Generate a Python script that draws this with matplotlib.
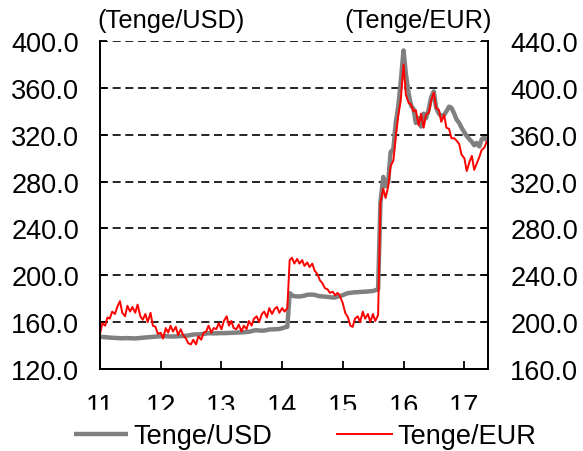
import matplotlib
matplotlib.use("Agg")
import matplotlib.pyplot as plt
import pandas as pd

plt.rcParams['font.family'] = ['Liberation Sans', 'DejaVu Sans']
plt.rcParams['font.size'] = 19.5

# semi-monthly observations, Jan 2011 - May 2017
dates = pd.date_range('2011-01-01', '2017-05-31', freq='SMS')

usd = [
    147.5, 147.4, 147.2, 147.0, 146.8, 146.7, 146.5, 146.4, 146.3, 146.2, 146.3, 146.4,
    146.3, 146.2, 146.1, 146.3, 146.5, 146.7, 146.9, 147.1, 147.3, 147.4, 147.6, 147.8,
    148.0, 148.1, 148.0, 147.9, 147.7, 147.8, 147.8, 147.9, 148.0, 148.2, 148.4, 148.6,
    149.0, 149.4, 149.6, 149.5, 149.7, 150.0, 150.3, 150.5, 150.5, 150.4, 150.5, 150.6,
    150.7, 150.6, 150.7, 150.8, 150.9, 150.9, 151.0, 151.1, 151.2, 151.4, 151.6, 151.8,
    152.3, 152.9, 153.1, 152.9, 152.7, 152.8, 153.3, 153.7, 153.8, 153.9, 154.0, 154.2,
    154.8, 155.5, 156.0, 184.8, 183.0, 182.1, 182.0, 181.9, 182.3, 182.6, 183.4, 183.5,
    183.5, 183.3, 182.6, 182.1, 182.0, 181.8, 181.6, 181.3, 181.0, 181.1, 181.8, 182.4,
    183.0, 184.0, 184.8, 185.0, 185.3, 185.5, 185.6, 185.8, 185.9, 186.0, 186.2, 186.3,
    186.6, 187.2, 188.0, 262.0, 284.0, 276.0, 280.0, 305.0, 308.0, 330.0, 345.0, 365.0,
    392.0, 372.0, 355.0, 345.0, 342.0, 330.0, 334.0, 327.0, 338.0, 334.0, 342.0, 352.0,
    357.0, 343.0, 338.0, 336.0, 337.0, 340.0, 344.0, 343.0, 338.0, 333.0, 330.0, 326.0,
    322.0, 319.0, 316.0, 314.0, 311.0, 313.0, 310.0, 316.0, 318.0, 315.0,
]

eur = [
    190, 199, 197, 204, 203, 209, 207, 213, 218, 208, 205, 214,
    209, 213, 208, 215, 205, 202, 207, 200, 208, 197, 196, 190,
    191, 186, 195, 191, 197, 192, 196, 189, 194, 189, 186, 182,
    181, 185, 181, 188, 185, 191, 192, 197, 191, 195, 194, 199,
    194, 201, 205, 197, 201, 195, 194, 198, 192, 197, 194, 201,
    197, 203, 205, 200, 207, 209, 204, 212, 207, 211, 213, 208,
    212, 209, 212, 253, 255, 250, 254, 250, 253, 248, 251, 247,
    250, 244, 241, 236, 233, 229, 228, 225, 226, 223, 225, 222,
    216, 208, 204, 197, 196, 203, 205, 200, 209, 203, 207, 200,
    207, 201, 206, 302, 314, 306, 316, 333, 338, 358, 377, 389,
    420, 394, 387, 386, 380, 381, 368, 378, 366, 377, 379, 389,
    396, 383, 381, 371, 377, 366, 365, 357, 357, 355, 352, 343,
    340, 329, 337, 342, 330, 335, 341, 347, 349, 354,
]

years = [11, 12, 13, 14, 15, 16, 17]
left_ticks = [120, 160, 200, 240, 280, 320, 360, 400]
right_ticks = [160, 200, 240, 280, 320, 360, 400, 440]

t = 11 + (dates - pd.Timestamp('2011-01-01')).days / 365.25

fig = plt.figure(figsize=(5.83, 4.52), dpi=100)
ax = fig.add_axes([0.1715, 0.1814, 0.6655, 0.7256])
ax2 = ax.twinx()

ax.plot(t, usd, color='#808080', lw=3.2, solid_capstyle='butt', label='Tenge/USD')
ax2.plot(t, eur, color='#ff0000', lw=1.4, label='Tenge/EUR')

ax.set_xlim(11, 17.39)
ax.set_ylim(120, 400)
ax2.set_ylim(160, 440)
ax.set_xticks(years)
ax.set_xticklabels([str(y) for y in years])
ax.set_yticks(left_ticks)
ax.set_yticklabels(['%.1f' % v for v in left_ticks])
ax2.set_yticks(right_ticks)
ax2.set_yticklabels(['%.1f' % v for v in right_ticks])

ax.grid(axis='y', color='black', linestyle=(0, (4.8, 2.8)), linewidth=1.2)
ax.set_axisbelow(True)

for a in (ax, ax2):
    a.spines['top'].set_visible(False)
    for s in ('left', 'right', 'bottom'):
        a.spines[s].set_linewidth(1.3)
ax.tick_params(axis='x', direction='in', length=6, width=1.3, pad=17)
ax.tick_params(axis='y', direction='in', length=5, width=1.3, pad=15)
ax2.tick_params(axis='y', direction='in', length=5, width=1.3, pad=16)

fig.text(97 / 583, 1 - 21 / 452, '(Tenge/USD)', ha='left', va='center', fontsize=18.3)
fig.text(492 / 583, 1 - 21 / 452, '(Tenge/EUR)', ha='right', va='center', fontsize=18.3)

# the year labels are cut off at the bottom in the original
fig.patches.append(plt.Rectangle((0, 1 - 423 / 452), 1, 12 / 452, transform=fig.transFigure,
                                 color='white', zorder=10))

h1, l1 = ax.get_legend_handles_labels()
h2, l2 = ax2.get_legend_handles_labels()
fig.legend(h1 + h2, l1 + l2, loc='center', bbox_to_anchor=(0.523, 1 - 437 / 452), ncol=2,
           frameon=False, handlelength=2.0, handletextpad=0.2, columnspacing=2.4,
           borderaxespad=0)

fig.savefig('out.png', dpi=100)
